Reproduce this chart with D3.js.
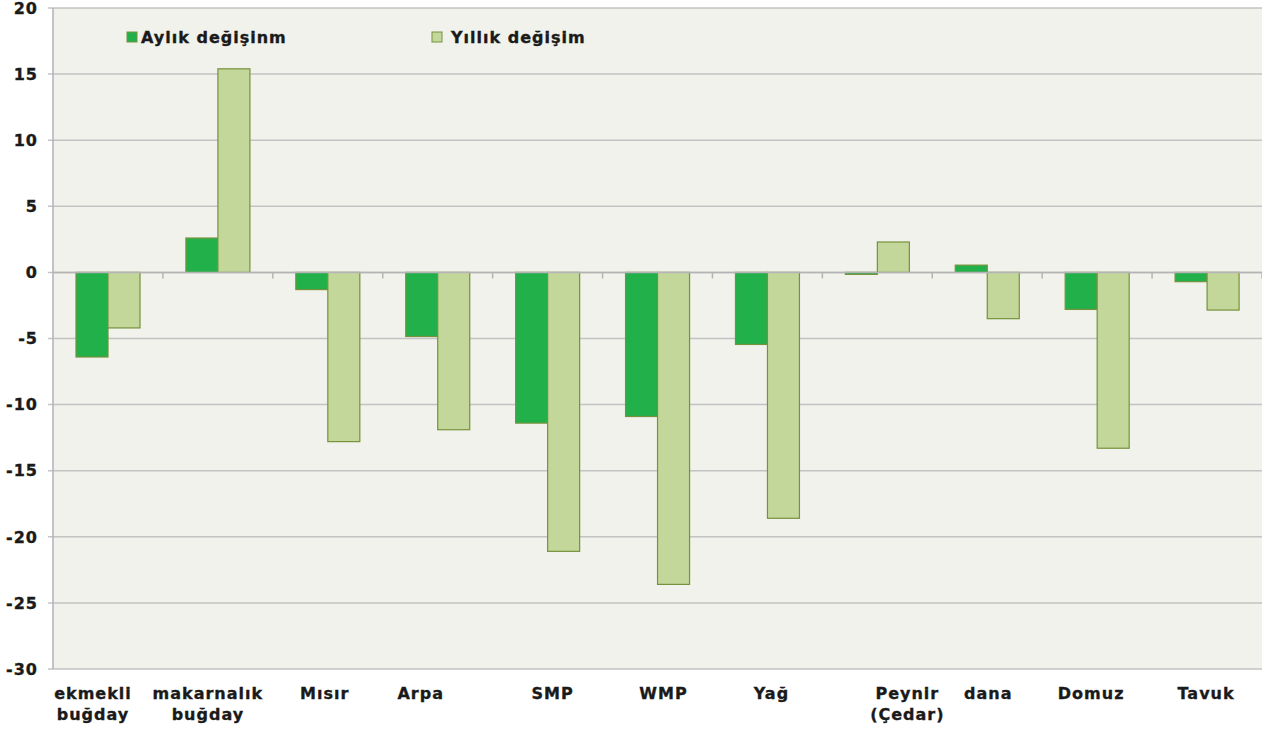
<!DOCTYPE html>
<html>
<head>
<meta charset="utf-8">
<script src="https://cdn.jsdelivr.net/npm/d3@7"></script>
<style>
  body { margin: 0; background: #fff; }
  text { font-family: "DejaVu Sans", Verdana, sans-serif; font-weight: bold; fill: #1a1a1a; stroke: #1a1a1a; stroke-width: 0.35px; font-size: 16px; letter-spacing: 1px; }
</style>
</head>
<body>
<div id="chart"></div>
<script>
var categories = [["ekmekli", "buğday"], ["makarnalık", "buğday"], ["Mısır"], ["Arpa"], ["SMP"], ["WMP"], ["Yağ"], ["Peynir", "(Çedar)"], ["dana"], ["Domuz"], ["Tavuk"]];
var seriesNames = ["Aylık değişinm", "Yıllık değişim"];
var monthly = [-6.4, 2.6, -1.3, -4.85, -11.4, -10.9, -5.45, -0.15, 0.55, -2.8, -0.7];
var yearly = [-4.2, 15.4, -12.8, -11.9, -21.1, -23.6, -18.6, 2.3, -3.5, -13.3, -2.85];
var yTicks = [20, 15, 10, 5, 0, -5, -10, -15, -20, -25, -30];

// small horizontal nudges so category labels sit where the original layout put them
var labelNudge = [-15, -10, -3, -17, 5, 6, 4, 30, 1, -6, -1];

var W = 1262, H = 733;
var margin = { top: 8, right: 0, bottom: 64, left: 53 };
var width = W - margin.left - margin.right,
    height = H - margin.top - margin.bottom;

var colors = ["#22b04b", "#c4d79b"];
var strokeCol = "#76923c";

var svg = d3.select("#chart").append("svg")
    .attr("width", W)
    .attr("height", H)
  .append("g")
    .attr("transform", "translate(" + margin.left + "," + margin.top + ")");

var x = d3.scaleBand()
    .domain(d3.range(categories.length))
    .range([0, width])
    .padding(0);

var xs = d3.scaleBand()
    .domain([0, 1])
    .range([23, 87]);

var y = d3.scaleLinear()
    .domain([-30, 20])
    .range([height, 0]);

// plot background
svg.append("rect")
    .attr("width", width)
    .attr("height", height)
    .attr("fill", "#f0f2eb");

// gridlines
svg.selectAll(".grid")
    .data(yTicks)
    .join("line")
    .attr("x1", -5)
    .attr("x2", width)
    .attr("y1", d => y(d))
    .attr("y2", d => y(d))
    .attr("stroke", "#c3c3c3")
    .attr("stroke-width", 1.5);

// left axis line
svg.append("line")
    .attr("x1", 0).attr("x2", 0)
    .attr("y1", 0).attr("y2", height)
    .attr("stroke", "#b0b0b8")
    .attr("stroke-width", 1.5);

// y tick labels
svg.selectAll(".ylab")
    .data(yTicks)
    .join("text")
    .attr("x", -15)
    .attr("y", d => y(d))
    .attr("dy", "0.36em")
    .attr("text-anchor", "end")
    .text(d => d);

// bars
var data = [];
categories.forEach(function(c, i) {
  data.push({ cat: i, s: 0, v: monthly[i] });
  data.push({ cat: i, s: 1, v: yearly[i] });
});

svg.selectAll(".bar")
    .data(data)
    .join("rect")
    .attr("x", d => x(d.cat) + xs(d.s))
    .attr("y", d => y(Math.max(0, d.v)))
    .attr("width", xs.bandwidth())
    .attr("height", d => Math.abs(y(d.v) - y(0)))
    .attr("fill", d => colors[d.s])
    .attr("stroke", strokeCol)
    .attr("stroke-width", 1.2);

// zero axis with ticks between categories
svg.append("line")
    .attr("x1", 0).attr("x2", width)
    .attr("y1", y(0)).attr("y2", y(0))
    .attr("stroke", "#b4b4b4")
    .attr("stroke-width", 1.5);

svg.selectAll(".xtick")
    .data(d3.range(1, categories.length + 1))
    .join("line")
    .attr("x1", d => x.step() * d)
    .attr("x2", d => x.step() * d)
    .attr("y1", y(0))
    .attr("y2", y(0) + 6)
    .attr("stroke", "#b4b4b4")
    .attr("stroke-width", 1.5);

// category labels
var lab = svg.selectAll(".xlab")
    .data(categories)
    .join("text")
    .attr("text-anchor", "middle")
    .attr("transform", (d, i) => "translate(" + (x(i) + x.bandwidth() / 2 + labelNudge[i]) + "," + (height + 30) + ")");

lab.selectAll("tspan")
    .data(d => d)
    .join("tspan")
    .attr("x", 0)
    .attr("dy", (d, i) => i === 0 ? 0 : 21)
    .text(d => d);

// legend
var legendX = [74, 379];
var legend = svg.selectAll(".legend")
    .data(seriesNames)
    .join("g")
    .attr("transform", (d, i) => "translate(" + legendX[i] + ",24)");

legend.append("rect")
    .attr("width", 10)
    .attr("height", 10)
    .attr("fill", (d, i) => colors[i])
    .attr("stroke", strokeCol)
    .attr("stroke-width", 1);

legend.append("text")
    .attr("x", (d, i) => i === 0 ? 14 : 19)
    .attr("y", 11)
    .text(d => d);
</script>
</body>
</html>
